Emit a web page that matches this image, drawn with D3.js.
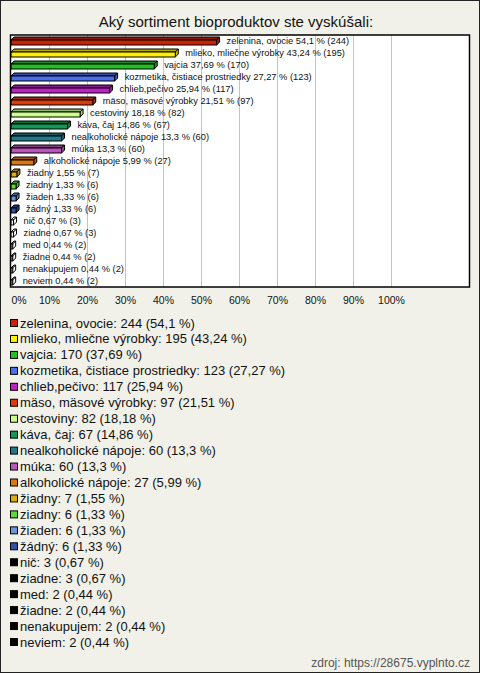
<!DOCTYPE html>
<html>
<head>
<meta charset="utf-8">
<script src="https://cdn.jsdelivr.net/npm/d3@7"></script>
<style>
  body { margin: 0; background: #f2f1e9; }
  svg { display: block; font-family: "Liberation Sans", Arial, sans-serif; }
</style>
</head>
<body>
<svg></svg>
<script>
// Data
const categories = [
  'zelenina, ovocie', 'mlieko, mliečne výrobky', 'vajcia', 'kozmetika, čistiace prostriedky',
  'chlieb,pečivo', 'mäso, mäsové výrobky', 'cestoviny', 'káva, čaj', 'nealkoholické nápoje',
  'múka', 'alkoholické nápoje', 'žiadny', 'ziadny', 'žiaden', 'žádný', 'nič', 'ziadne',
  'med', 'žiadne', 'nenakupujem', 'neviem'
]
const counts = [244, 195, 170, 123, 117, 97, 82, 67, 60, 60, 27, 7, 6, 6, 6, 3, 3, 2, 2, 2, 2]
const percents = [54.1, 43.24, 37.69, 27.27, 25.94, 21.51, 18.18, 14.86, 13.3, 13.3, 5.99,
  1.55, 1.33, 1.33, 1.33, 0.67, 0.67, 0.44, 0.44, 0.44, 0.44]
const colors = [
  '#cc2200', '#ffee00', '#22c022', '#4a70ee', '#c020c8', '#dd3a0a', '#ccff88', '#119955',
  '#1f7a8a', '#bb55bb', '#dd7711', '#ddaa11', '#55dd33', '#6a96dd', '#2f50a8',
  '#000', '#000', '#000', '#000', '#000', '#000'
]
const xTicks = [0, 10, 20, 30, 40, 50, 60, 70, 80, 90, 100]

const fmt = (v) => String(v).replace('.', ',')

// Layout
const width = 480
const height = 673
const svg = d3.select('svg').attr('width', width).attr('height', height)

svg.append('rect')
  .attr('x', 0.5).attr('y', 0.5)
  .attr('width', width - 1).attr('height', height - 1)
  .attr('fill', '#f2f1e9').attr('stroke', '#222')

svg.append('text')
  .attr('x', 236).attr('y', 27)
  .attr('text-anchor', 'middle')
  .attr('font-size', 15)
  .attr('fill', '#111')
  .text('Aký sortiment bioproduktov ste vyskúšali:')

const box = { left: 10.5, top: 35, right: 469.5, bottom: 287 }
const x = d3.scaleLinear().domain([0, 100]).range([11, 391])
const y = d3.scaleBand().domain(categories).range([box.top, box.bottom])

svg.append('rect')
  .attr('x', box.left).attr('y', box.top)
  .attr('width', box.right - box.left).attr('height', box.bottom - box.top)
  .attr('fill', '#fff')

// grid
svg.append('g')
  .selectAll('line')
  .data(xTicks.filter((d) => d > 0))
  .join('line')
  .attr('x1', (d) => Math.round(x(d)) + 0.5)
  .attr('x2', (d) => Math.round(x(d)) + 0.5)
  .attr('y1', box.top).attr('y2', box.bottom)
  .attr('stroke', '#c4c4c4')

// 3D bars
const depth = 3
const barH = 5
const bars = svg.append('g')
  .selectAll('g')
  .data(categories.map((c, i) => ({ c, i })))
  .join('g')

bars.each(function ({ c, i }) {
  const g = d3.select(this)
  const x0 = x(0)
  const x1 = x(percents[i])
  const yc = y(c) + y.bandwidth() / 2
  const top = yc - 1
  const col = d3.color(colors[i])
  const dark = colors[i] === '#000' ? '#fff' : col.darker(0.9)
  const side = colors[i] === '#000' ? '#fff' : col.darker(0.6)
  // top face
  g.append('path')
    .attr('d', `M${x0},${top}L${x0 + depth},${top - depth}L${x1 + depth},${top - depth}L${x1},${top}Z`)
    .attr('fill', dark).attr('stroke', '#000').attr('stroke-width', 1)
  // side face
  g.append('path')
    .attr('d', `M${x1},${top}L${x1 + depth},${top - depth}L${x1 + depth},${top - depth + barH}L${x1},${top + barH}Z`)
    .attr('fill', side).attr('stroke', '#000').attr('stroke-width', 1)
  // front face
  g.append('rect')
    .attr('x', x0).attr('y', top)
    .attr('width', x1 - x0).attr('height', barH)
    .attr('fill', colors[i] === '#000' ? '#fff' : colors[i])
    .attr('stroke', '#000').attr('stroke-width', 1)
  g.append('text')
    .attr('x', x1 + depth + 7)
    .attr('y', yc + 3)
    .attr('font-size', 9.3)
    .attr('fill', '#111')
    .text(`${c} ${fmt(percents[i])} % (${counts[i]})`)
})

svg.append('rect')
  .attr('x', box.left).attr('y', box.top)
  .attr('width', box.right - box.left).attr('height', box.bottom - box.top)
  .attr('fill', 'none').attr('stroke', '#000').attr('stroke-width', 1.5)

// x axis labels
const axis = svg.append('g')
  .attr('transform', `translate(0,${box.bottom})`)
  .call(d3.axisBottom(x).tickValues(xTicks).tickSize(0).tickPadding(10).tickFormat((d) => d + '%'))
axis.select('.domain').remove()
axis.selectAll('text')
  .attr('font-size', 10.5)
  .attr('fill', '#111')
  .attr('font-family', '"Liberation Sans", Arial, sans-serif')
axis.selectAll('.tick').filter((d) => d === 0).select('text').attr('text-anchor', 'start').attr('x', 0)

// legend
const legend = svg.append('g')
  .selectAll('g')
  .data(categories.map((c, i) => ({ c, i })))
  .join('g')
  .attr('transform', ({ i }) => `translate(0,${323 + i * 15.95})`)

legend.append('rect')
  .attr('x', 10.5).attr('y', -3.5)
  .attr('width', 7).attr('height', 7)
  .attr('fill', ({ i }) => colors[i])
  .attr('stroke', '#000')

legend.append('text')
  .attr('x', 20).attr('y', 4.5)
  .attr('font-size', 13)
  .attr('fill', '#111')
  .text(({ c, i }) => `${c}: ${counts[i]} (${fmt(percents[i])} %)`)

svg.append('text')
  .attr('x', 470).attr('y', 667)
  .attr('text-anchor', 'end')
  .attr('font-size', 12)
  .attr('fill', '#555')
  .text('zdroj: https://28675.vyplnto.cz')
</script>
</body>
</html>
